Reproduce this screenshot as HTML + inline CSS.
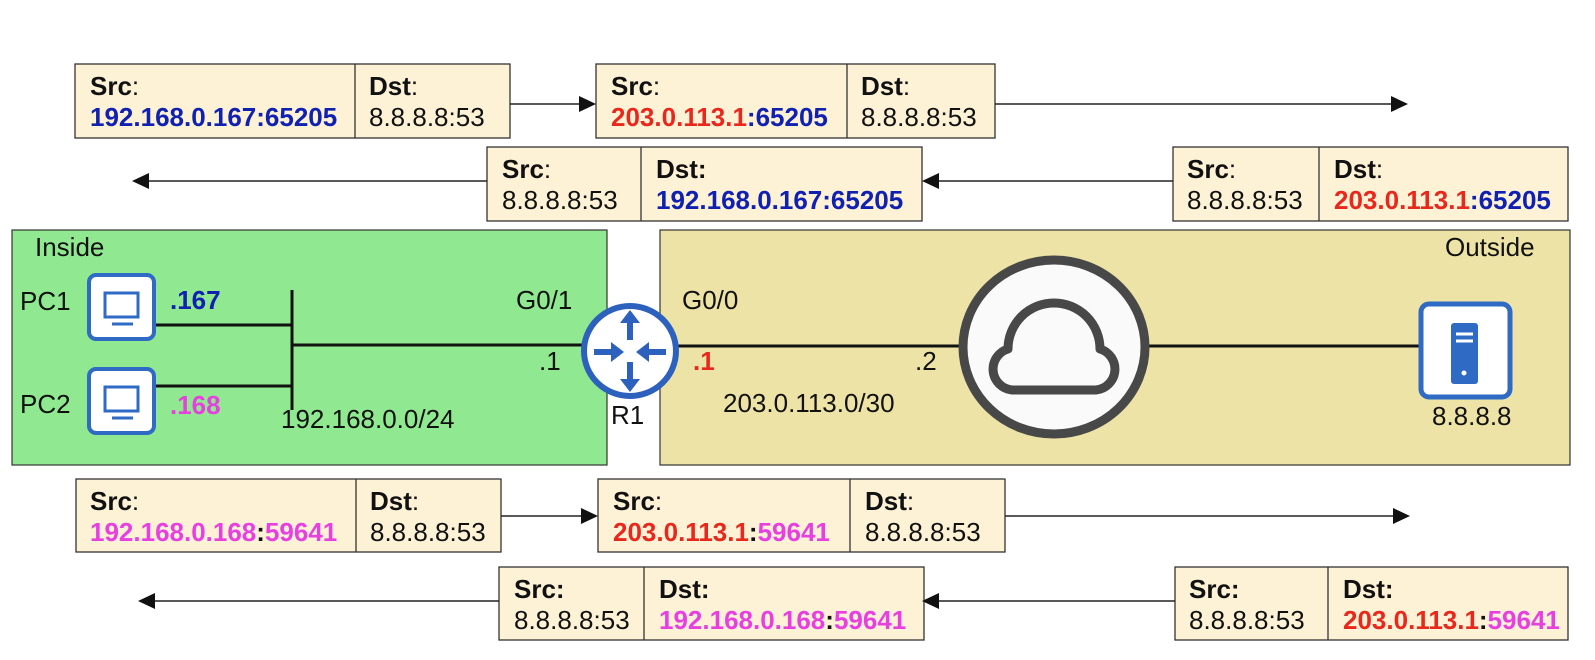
<!DOCTYPE html>
<html><head><meta charset="utf-8"><style>
html,body{margin:0;padding:0;background:#fff;width:1595px;height:660px;overflow:hidden;position:relative;font-family:"Liberation Sans",sans-serif}
svg{position:absolute;left:0;top:0}
.t{position:absolute;font-size:26px;line-height:24px;margin-top:-1px;white-space:nowrap;color:#111}
b{font-weight:bold}
.bl{color:#1020b0;font-weight:bold}
.rd{color:#e8281c;font-weight:bold}
.mg{color:#e840e0;font-weight:bold}
</style></head><body>
<svg width="1595" height="660" viewBox="0 0 1595 660">
<rect x="12" y="230" width="595" height="235" fill="#90e890" stroke="#333" stroke-width="1.2"/>
<rect x="660" y="230" width="910" height="235" fill="#ede3a6" stroke="#333" stroke-width="1.2"/>
<g fill="#fdf2d6" stroke="#333" stroke-width="1.3">
<rect x="75" y="64" width="435" height="74"/><line x1="355" y1="64" x2="355" y2="138"/>
<rect x="596" y="64" width="399" height="74"/><line x1="847" y1="64" x2="847" y2="138"/>
<rect x="487" y="147" width="435" height="74"/><line x1="641" y1="147" x2="641" y2="221"/>
<rect x="1173" y="147" width="395" height="74"/><line x1="1319" y1="147" x2="1319" y2="221"/>
<rect x="76" y="479" width="425" height="73"/><line x1="356" y1="479" x2="356" y2="552"/>
<rect x="598" y="479" width="407" height="73"/><line x1="850" y1="479" x2="850" y2="552"/>
<rect x="499" y="567" width="425" height="73"/><line x1="644" y1="567" x2="644" y2="640"/>
<rect x="1175" y="567" width="393" height="73"/><line x1="1328" y1="567" x2="1328" y2="640"/>
</g>
<g stroke="#222" stroke-width="1.5">
<line x1="510" y1="104" x2="584" y2="104"/><line x1="995" y1="104" x2="1395" y2="104"/>
<line x1="487" y1="181" x2="145" y2="181"/><line x1="1173" y1="181" x2="935" y2="181"/>
<line x1="501" y1="516" x2="586" y2="516"/><line x1="1005" y1="516" x2="1397" y2="516"/>
<line x1="499" y1="601" x2="152" y2="601"/><line x1="1175" y1="601" x2="936" y2="601"/>
</g>
<g fill="#111">
<path d="M596,104 l-17,-8 v16z"/><path d="M1408,104 l-17,-8 v16z"/>
<path d="M132,181 l17,-8 v16z"/><path d="M922,181 l17,-8 v16z"/>
<path d="M598,516 l-17,-8 v16z"/><path d="M1410,516 l-17,-8 v16z"/>
<path d="M138,601 l17,-8 v16z"/><path d="M922,601 l17,-8 v16z"/>
</g>
<g stroke="#111" stroke-width="3">
<line x1="154" y1="325" x2="292" y2="325"/>
<line x1="154" y1="386" x2="292" y2="386"/>
<line x1="292" y1="290" x2="292" y2="410"/>
<line x1="292" y1="345" x2="585" y2="345"/>
<line x1="676" y1="346" x2="962" y2="346"/>
<line x1="1146" y1="346" x2="1420" y2="346"/>
</g>
<g>
<rect x="89" y="275" width="65" height="64" rx="7" fill="#fff" stroke="#2f6bc4" stroke-width="4"/>
<rect x="105" y="293" width="33" height="24" fill="none" stroke="#2f6bc4" stroke-width="3"/>
<line x1="112" y1="324" x2="133" y2="324" stroke="#2f6bc4" stroke-width="3"/>
<rect x="89" y="369" width="65" height="64" rx="7" fill="#fff" stroke="#2f6bc4" stroke-width="4"/>
<rect x="105" y="387" width="33" height="24" fill="none" stroke="#2f6bc4" stroke-width="3"/>
<line x1="112" y1="418" x2="133" y2="418" stroke="#2f6bc4" stroke-width="3"/>
</g>
<g>
<ellipse cx="630" cy="351" rx="46" ry="45" fill="#fff" stroke="#2c62bd" stroke-width="6"/>
<g fill="#2c62bd">
<path d="M630,310 l-10,13 h7 v17 h6 v-17 h7z"/>
<path d="M630,392 l-10,-13 h7 v-17 h6 v17 h7z"/>
<path d="M624,352 l-13,-10 v7 h-17 v6 h17 v7z"/>
<path d="M636,352 l13,-10 v7 h17 v6 h-17 v7z"/>
</g>
</g>
<ellipse cx="1054" cy="347" rx="91" ry="87" fill="#fafafa" stroke="#484848" stroke-width="9"/>
<path d="M1012,390 L1096,390 A21,21 0 0 0 1100,349 A46,46 0 0 0 1008,349 A21,21 0 0 0 1012,390 Z" fill="#fafafa" stroke="#484848" stroke-width="9" stroke-linejoin="round"/>
<rect x="1421" y="304" width="89" height="93" rx="8" fill="#fff" stroke="#2f6bc4" stroke-width="5"/>
<rect x="1451" y="323" width="27" height="61" rx="3" fill="#2f6bc4"/>
<line x1="1456" y1="334" x2="1473" y2="334" stroke="#fff" stroke-width="3"/>
<line x1="1456" y1="341" x2="1473" y2="341" stroke="#fff" stroke-width="3"/>
<circle cx="1464" cy="373" r="2.5" fill="#fff"/>
</svg>

<div class="t" style="left:90px;top:75px"><b>Src</b>:</div>
<div class="t bl" style="left:90px;top:106px">192.168.0.167:65205</div>
<div class="t" style="left:369px;top:75px"><b>Dst</b>:</div>
<div class="t" style="left:369px;top:106px">8.8.8.8:53</div>
<div class="t" style="left:611px;top:75px"><b>Src</b>:</div>
<div class="t" style="left:611px;top:106px"><span class="rd">203.0.113.1</span><span class="bl">:65205</span></div>
<div class="t" style="left:861px;top:75px"><b>Dst</b>:</div>
<div class="t" style="left:861px;top:106px">8.8.8.8:53</div>
<div class="t" style="left:502px;top:158px"><b>Src</b>:</div>
<div class="t" style="left:502px;top:189px">8.8.8.8:53</div>
<div class="t" style="left:656px;top:158px"><b>Dst:</b></div>
<div class="t bl" style="left:656px;top:189px">192.168.0.167:65205</div>
<div class="t" style="left:1187px;top:158px"><b>Src</b>:</div>
<div class="t" style="left:1187px;top:189px">8.8.8.8:53</div>
<div class="t" style="left:1334px;top:158px"><b>Dst</b>:</div>
<div class="t" style="left:1334px;top:189px"><span class="rd">203.0.113.1</span><span class="bl">:65205</span></div>
<div class="t" style="left:90px;top:490px"><b>Src</b>:</div>
<div class="t" style="left:90px;top:521px"><span class="mg">192.168.0.168</span><b>:</b><span class="mg">59641</span></div>
<div class="t" style="left:370px;top:490px"><b>Dst</b>:</div>
<div class="t" style="left:370px;top:521px">8.8.8.8:53</div>
<div class="t" style="left:613px;top:490px"><b>Src</b>:</div>
<div class="t" style="left:613px;top:521px"><span class="rd">203.0.113.1</span><b>:</b><span class="mg">59641</span></div>
<div class="t" style="left:865px;top:490px"><b>Dst</b>:</div>
<div class="t" style="left:865px;top:521px">8.8.8.8:53</div>
<div class="t" style="left:514px;top:578px"><b>Src:</b></div>
<div class="t" style="left:514px;top:609px">8.8.8.8:53</div>
<div class="t" style="left:659px;top:578px"><b>Dst:</b></div>
<div class="t" style="left:659px;top:609px"><span class="mg">192.168.0.168</span><b>:</b><span class="mg">59641</span></div>
<div class="t" style="left:1189px;top:578px"><b>Src:</b></div>
<div class="t" style="left:1189px;top:609px">8.8.8.8:53</div>
<div class="t" style="left:1343px;top:578px"><b>Dst:</b></div>
<div class="t" style="left:1343px;top:609px"><span class="rd">203.0.113.1</span><b>:</b><span class="mg">59641</span></div>

<div class="t" style="left:35px;top:236px">Inside</div>
<div class="t" style="left:20px;top:290px">PC1</div>
<div class="t" style="left:20px;top:393px">PC2</div>
<div class="t bl" style="left:170px;top:289px">.167</div>
<div class="t mg" style="left:170px;top:394px">.168</div>
<div class="t" style="left:281px;top:408px">192.168.0.0/24</div>
<div class="t" style="left:516px;top:289px">G0/1</div>
<div class="t" style="left:539px;top:350px">.1</div>
<div class="t" style="left:611px;top:404px">R1</div>
<div class="t" style="left:682px;top:289px">G0/0</div>
<div class="t rd" style="left:693px;top:350px">.1</div>
<div class="t" style="left:915px;top:350px">.2</div>
<div class="t" style="left:723px;top:392px">203.0.113.0/30</div>
<div class="t" style="left:1445px;top:236px">Outside</div>
<div class="t" style="left:1432px;top:405px">8.8.8.8</div>
</body></html>
